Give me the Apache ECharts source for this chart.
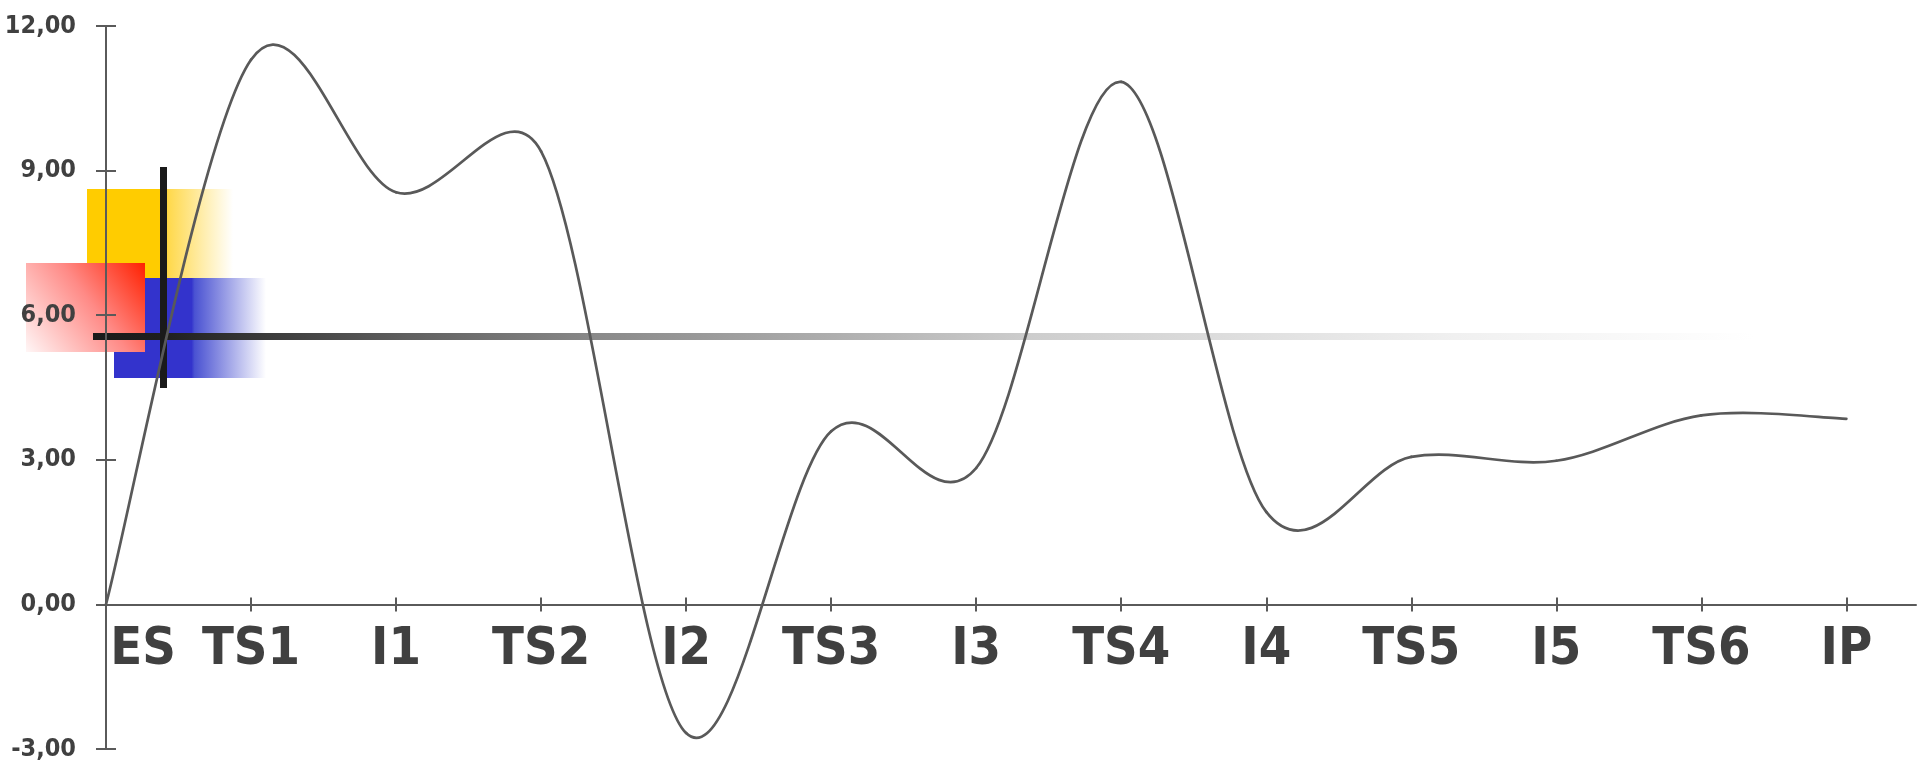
<!DOCTYPE html>
<html>
<head>
<meta charset="utf-8">
<script src="https://cdn.jsdelivr.net/npm/echarts@6.0.0/dist/echarts.min.js"></script>
<style>
  html, body { margin: 0; padding: 0; background: #ffffff; }
  #chart { width: 1920px; height: 767px; }
</style>
</head>
<body>
<div id="chart"></div>
<script>
// Phase labels along the x axis and the measured value at each phase
const categories = ['ES', 'TS1', 'I1', 'TS2', 'I2', 'TS3', 'I3', 'TS4', 'I4', 'TS5', 'I5', 'TS6', 'IP'];
const values = [0, 11.3, 8.55, 9.4, -2.67, 3.59, 2.83, 10.84, 1.92, 3.06, 2.98, 3.92, 3.85];
const yTicks = [-3, 0, 3, 6, 9, 12];

const FONT = "'DejaVu Sans Condensed', 'DejaVu Sans', sans-serif";
const TEXT = '#404040';
const AXIS = '#5a5a5a';
const LINE = '#595959';

const Y_MIN = -3, Y_MAX = 12;
const X_MAX = 12.48;
const tickPositions = categories.map((_, i) => i);

// plot area in pixels
const PLOT = { left: 106, right: 4, top: 26, bottom: 18 };
const plotHeight = 767 - PLOT.top - PLOT.bottom;
// height of the part of the plot above the zero line (label band sits below it)
const aboveZero = plotHeight * (Y_MAX - 0) / (Y_MAX - Y_MIN);

const chart = echarts.init(document.getElementById('chart'), null, { renderer: 'canvas' });

// Smoothed curve: bezier segments with tangent lengths capped at half the segment
function renderSegment(params, api) {
  const i = params.dataIndex;
  const n = values.length;
  if (i >= n - 1) return null;
  const pt = k => api.coord([k, values[k]]);
  const p1 = pt(i);
  const p2 = pt(i + 1);
  const p0 = i > 0 ? pt(i - 1) : p1;
  const p3 = i + 2 < n ? pt(i + 2) : p2;
  const dist = (a, b) => Math.hypot(a[0] - b[0], a[1] - b[1]);
  const d12 = dist(p1, p2);
  const d02 = dist(p0, p2);
  const d13 = dist(p1, p3);
  let f1 = 1 / 6, f2 = 1 / 6;
  if (d02 / 6 >= d12 / 2) f1 = d12 / d02 / 2;
  if (d13 / 6 >= d12 / 2) f2 = d12 / d13 / 2;
  return {
    type: 'bezierCurve',
    shape: {
      x1: p1[0], y1: p1[1],
      x2: p2[0], y2: p2[1],
      cpx1: p1[0] + f1 * (p2[0] - p0[0]),
      cpy1: p1[1] + f1 * (p2[1] - p0[1]),
      cpx2: p2[0] - f2 * (p3[0] - p1[0]),
      cpy2: p2[1] - f2 * (p3[1] - p1[1])
    },
    style: { stroke: LINE, lineWidth: 2.7, fill: null, lineCap: 'round' }
  };
}

const baseX = {
  type: 'value',
  min: 0,
  max: X_MAX,
  position: 'bottom',
  gridIndex: 0,
  splitLine: { show: false },
  z: 5
};
const baseY = {
  type: 'value',
  min: Y_MIN,
  max: Y_MAX,
  interval: 3,
  position: 'left',
  gridIndex: 0,
  splitLine: { show: false },
  z: 5
};

chart.setOption({
  animation: false,
  backgroundColor: '#ffffff',
  grid: [
    { left: PLOT.left, right: PLOT.right, top: PLOT.top, bottom: PLOT.bottom, containLabel: false, outerBoundsMode: 'none' },
    // same horizontal extent, bottom edge on the zero line: carries the category labels
    { left: PLOT.left, right: PLOT.right, top: PLOT.top, height: aboveZero, containLabel: false, outerBoundsMode: 'none' }
  ],
  xAxis: [
    Object.assign({}, baseX, {
      axisLine: { show: true, onZero: true, lineStyle: { color: AXIS, width: 2 } },
      axisTick: { show: true, inside: false, length: 7, customValues: tickPositions, lineStyle: { color: AXIS, width: 2 } },
      axisLabel: { show: false }
    }),
    Object.assign({}, baseX, {
      axisLine: { show: true, onZero: true, lineStyle: { opacity: 0 } },
      axisTick: { show: true, inside: true, length: 7, customValues: tickPositions, lineStyle: { color: AXIS, width: 2 } },
      axisLabel: { show: false }
    }),
    Object.assign({}, baseX, {
      gridIndex: 1,
      axisLine: { show: false, onZero: false },
      axisTick: { show: false },
      axisLabel: {
        show: true,
        customValues: tickPositions,
        margin: 20,
        color: TEXT,
        fontFamily: FONT,
        fontWeight: 'bold',
        fontSize: 52,
        formatter: v => {
          const idx = Math.round(v);
          return idx === 0 ? '{first|' + categories[idx] + '}' : categories[idx];
        },
        rich: {
          first: { padding: [0, 0, 0, 74], color: TEXT, fontFamily: FONT, fontWeight: 'bold', fontSize: 52 }
        }
      }
    })
  ],
  yAxis: [
    Object.assign({}, baseY, {
      axisLine: { show: true, onZero: false, lineStyle: { color: AXIS, width: 2 } },
      axisTick: { show: true, inside: false, length: 10, lineStyle: { color: AXIS, width: 2 } },
      axisLabel: {
        show: true,
        margin: 30,
        color: TEXT,
        fontFamily: FONT,
        fontWeight: 'bold',
        fontSize: 25,
        customValues: yTicks,
        formatter: v => v.toFixed(2).replace('.', ',')
      }
    }),
    Object.assign({}, baseY, {
      axisLine: { show: true, onZero: false, lineStyle: { opacity: 0 } },
      axisTick: { show: true, inside: true, length: 10, lineStyle: { color: AXIS, width: 2 } },
      axisLabel: { show: false }
    }),
    {
      type: 'value',
      gridIndex: 1,
      min: 0,
      max: Y_MAX,
      show: false
    }
  ],
  graphic: [
    // yellow block fading to the right
    {
      type: 'rect', z: 1, left: 87, top: 189,
      shape: { width: 146, height: 89 },
      style: {
        fill: new echarts.graphic.LinearGradient(0, 0, 1, 0, [
          { offset: 0, color: '#ffcc00' },
          { offset: 0.5, color: '#ffcc00' },
          { offset: 0.56, color: '#ffd94d' },
          { offset: 1, color: 'rgba(255,255,255,1)' }
        ])
      }
    },
    // blue block fading to the right
    {
      type: 'rect', z: 1, left: 114, top: 278,
      shape: { width: 152, height: 100 },
      style: {
        fill: new echarts.graphic.LinearGradient(0, 0, 1, 0, [
          { offset: 0, color: '#3333cc' },
          { offset: 0.51, color: '#3333cc' },
          { offset: 0.53, color: '#4a52d2' },
          { offset: 1, color: 'rgba(255,255,255,1)' }
        ])
      }
    },
    // red block, strongest at its upper right corner
    {
      type: 'rect', z: 2, left: 26, top: 263,
      shape: { width: 119, height: 89 },
      style: {
        fill: new echarts.graphic.LinearGradient(1, 0, 0, 1, [
          { offset: 0, color: '#ff2000' },
          { offset: 0.45, color: '#ff8a86' },
          { offset: 1, color: '#fff6f6' }
        ])
      }
    },
    // horizontal bar fading out to the right
    {
      type: 'rect', z: 3, left: 93, top: 333,
      shape: { width: 1660, height: 7 },
      style: {
        fill: new echarts.graphic.LinearGradient(0, 0, 1, 0, [
          { offset: 0, color: '#1a1a1a' },
          { offset: 0.04, color: '#1e1e1e' },
          { offset: 0.19, color: '#606060' },
          { offset: 0.3, color: '#888888' },
          { offset: 0.56, color: '#cccccc' },
          { offset: 0.82, color: '#f0f0f0' },
          { offset: 1, color: '#ffffff' }
        ])
      }
    },
    // vertical bar
    {
      type: 'rect', z: 3, left: 160, top: 167,
      shape: { width: 7, height: 221 },
      style: { fill: '#1a1a1a' }
    }
  ],
  series: [
    {
      type: 'custom',
      xAxisIndex: 0,
      yAxisIndex: 0,
      z: 10,
      clip: false,
      silent: true,
      renderItem: renderSegment,
      encode: { x: 0, y: 1 },
      data: values.map((v, i) => [i, v])
    }
  ]
});
</script>
</body>
</html>
